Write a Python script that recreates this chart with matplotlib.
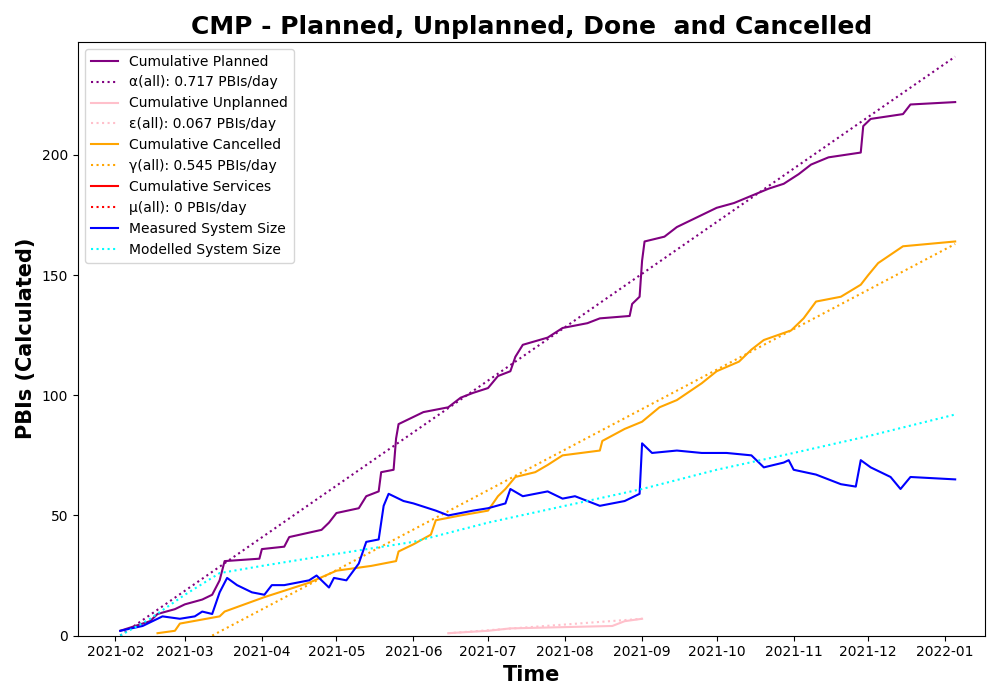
import numpy as np
import pandas as pd
from matplotlib import pyplot as plt

planned_dates = ['2021-02-03', '2021-02-15', '2021-02-18', '2021-02-25', '2021-03-01', '2021-03-08',
                 '2021-03-12', '2021-03-15', '2021-03-17', '2021-03-31', '2021-04-01', '2021-04-10',
                 '2021-04-12', '2021-04-25', '2021-04-28', '2021-05-01', '2021-05-10', '2021-05-13',
                 '2021-05-18', '2021-05-19', '2021-05-24', '2021-05-25', '2021-05-26', '2021-06-01',
                 '2021-06-05', '2021-06-15', '2021-06-20', '2021-06-25', '2021-07-01', '2021-07-05',
                 '2021-07-10', '2021-07-12', '2021-07-15', '2021-07-25', '2021-07-31', '2021-08-10',
                 '2021-08-15', '2021-08-27', '2021-08-28', '2021-08-31', '2021-09-01', '2021-09-02',
                 '2021-09-10', '2021-09-15', '2021-09-25', '2021-10-01', '2021-10-08', '2021-10-15',
                 '2021-10-22', '2021-10-28', '2021-11-03', '2021-11-08', '2021-11-15', '2021-11-28',
                 '2021-11-29', '2021-12-02', '2021-12-15', '2021-12-18', '2022-01-05']
planned_vals = [2, 6, 9, 11, 13, 15, 17, 23, 31, 32, 36, 37, 41, 44, 47, 51, 53, 58, 60, 68, 69, 82,
                88, 91, 93, 95, 99, 101, 103, 108, 110, 116, 121, 124, 128, 130, 132, 133, 138, 141,
                156, 164, 166, 170, 175, 178, 180, 183, 186, 188, 192, 196, 199, 201, 212, 215, 217,
                221, 222]

cancel_dates = ['2021-02-18', '2021-02-25', '2021-02-27', '2021-03-15', '2021-03-17', '2021-03-25',
                '2021-04-02', '2021-04-08', '2021-04-20', '2021-05-01', '2021-05-15', '2021-05-25',
                '2021-05-26', '2021-06-01', '2021-06-08', '2021-06-10', '2021-06-20', '2021-07-01',
                '2021-07-05', '2021-07-08', '2021-07-12', '2021-07-20', '2021-07-25', '2021-07-31',
                '2021-08-15', '2021-08-16', '2021-08-25', '2021-09-01', '2021-09-08', '2021-09-15',
                '2021-09-25', '2021-10-01', '2021-10-10', '2021-10-15', '2021-10-20', '2021-10-31',
                '2021-11-05', '2021-11-10', '2021-11-20', '2021-11-28', '2021-12-01', '2021-12-05',
                '2021-12-15', '2022-01-05']
cancel_vals = [1, 2, 5, 8, 10, 13, 16, 18, 22, 27, 29, 31, 35, 38, 42, 48, 50, 52, 58, 61, 66, 68,
               71, 75, 77, 81, 86, 89, 95, 98, 105, 110, 114, 119, 123, 127, 132, 139, 141, 146,
               150, 155, 162, 164]

unpl_dates = ['2021-06-15', '2021-07-01', '2021-07-10', '2021-08-20', '2021-08-25', '2021-09-01']
unpl_vals = [1, 2, 3, 4, 6, 7]

size_dates = ['2021-02-03', '2021-02-12', '2021-02-16', '2021-02-20', '2021-02-27', '2021-03-05',
              '2021-03-08', '2021-03-12', '2021-03-15', '2021-03-18', '2021-03-22', '2021-03-28',
              '2021-04-02', '2021-04-05', '2021-04-10', '2021-04-20', '2021-04-23', '2021-04-28',
              '2021-04-30', '2021-05-05', '2021-05-10', '2021-05-13', '2021-05-18', '2021-05-20',
              '2021-05-22', '2021-05-28', '2021-06-01', '2021-06-10', '2021-06-15', '2021-06-25',
              '2021-07-01', '2021-07-08', '2021-07-10', '2021-07-15', '2021-07-25', '2021-07-31',
              '2021-08-05', '2021-08-10', '2021-08-15', '2021-08-25', '2021-08-31', '2021-09-01',
              '2021-09-05', '2021-09-15', '2021-09-25', '2021-10-05', '2021-10-15', '2021-10-20',
              '2021-10-28', '2021-10-30', '2021-11-01', '2021-11-10', '2021-11-20', '2021-11-26',
              '2021-11-28', '2021-12-02', '2021-12-10', '2021-12-14', '2021-12-18', '2022-01-05']
size_vals = [2, 4, 6, 8, 7, 8, 10, 9, 18, 24, 21, 18, 17, 21, 21, 23, 25, 20, 24, 23, 30, 39, 40,
             54, 59, 56, 55, 52, 50, 52, 53, 55, 61, 58, 60, 57, 58, 56, 54, 56, 59, 80, 76, 77,
             76, 76, 75, 70, 72, 73, 69, 67, 63, 62, 73, 70, 66, 61, 66, 65]

model_dates = ['2021-02-03', '2021-02-15', '2021-03-01', '2021-03-15', '2021-04-01', '2021-05-01',
               '2021-06-01', '2021-07-01', '2021-08-01', '2021-09-01', '2021-10-01', '2021-11-01',
               '2021-12-01', '2022-01-05']
model_vals = [0, 7, 17, 26, 29, 34, 39, 47, 54, 61, 69, 76, 83, 92]

alpha = 0.717
alpha_start = '2021-02-03'
gamma = 0.545
gamma_start = '2021-03-12'
eps_dates = ['2021-06-15', '2021-09-01']
eps_vals = [1, 7]
end_date = '2022-01-05'


def d(lst):
    return pd.to_datetime(lst)


fig, ax = plt.subplots(figsize=(10, 7), dpi=100)

ax.plot(d(planned_dates), planned_vals, color='purple', label='Cumulative Planned')
a_x = d([alpha_start, end_date])
a_days = (a_x - a_x[0]).days.values
ax.plot(a_x, alpha * a_days, color='purple', ls=':', label='\u03b1(all): 0.717 PBIs/day')

ax.plot(d(unpl_dates), unpl_vals, color='pink', label='Cumulative Unplanned')
ax.plot(d(eps_dates), eps_vals, color='pink', ls=':', label='\u03b5(all): 0.067 PBIs/day')

ax.plot(d(cancel_dates), cancel_vals, color='orange', label='Cumulative Cancelled')
g_x = d([gamma_start, end_date])
g_days = (g_x - g_x[0]).days.values
ax.plot(g_x, gamma * g_days, color='orange', ls=':', label='\u03b3(all): 0.545 PBIs/day')

ax.plot([], [], color='red', label='Cumulative Services')
ax.plot([], [], color='red', ls=':', label='\u03bc(all): 0 PBIs/day')

ax.plot(d(size_dates), size_vals, color='blue', label='Measured System Size')
ax.plot(d(model_dates), model_vals, color='cyan', ls=':', label='Modelled System Size')

ax.set_ylim(0, 247)
ax.set_xlim(pd.Timestamp('2021-01-17'), pd.Timestamp('2022-01-17'))
ax.set_xticks(pd.date_range('2021-02-01', '2022-01-01', freq='MS'))
ax.set_xticklabels([t.strftime('%Y-%m') for t in pd.date_range('2021-02-01', '2022-01-01', freq='MS')])
ax.set_yticks([0, 50, 100, 150, 200])

ax.set_title('CMP - Planned, Unplanned, Done  and Cancelled', fontsize=18, fontweight='bold')
ax.set_xlabel('Time', fontsize=15, fontweight='bold')
ax.set_ylabel('PBIs (Calculated)', fontsize=15, fontweight='bold')
ax.legend(loc='upper left')

plt.subplots_adjust(left=0.078, right=0.985, top=0.94, bottom=0.092)
plt.savefig('out.png')
